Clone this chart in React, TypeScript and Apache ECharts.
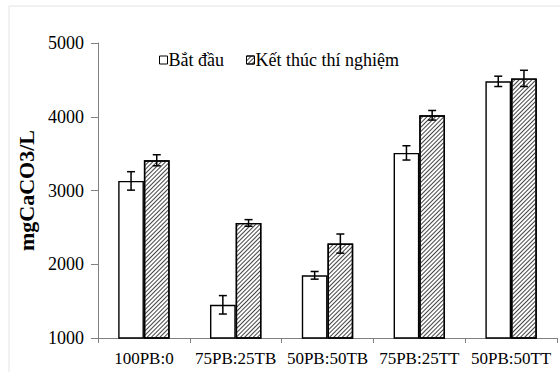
import React, { useEffect, useRef } from "react";
import * as echarts from "echarts";

const categories = ["100PB:0", "75PB:25TB", "50PB:50TB", "75PB:25TT", "50PB:50TT"];
const startValues = [3130, 1450, 1850, 3510, 4480];
const startErrors = [125, 125, 52, 97, 70];
const endValues = [3410, 2560, 2280, 4020, 4520];
const endErrors = [75, 45, 130, 65, 110];
const seriesNames = ["Bắt đầu", "Kết thúc thí nghiệm"];
const yTicks = { min: 1000, max: 5000, interval: 1000 };
const yName = "mgCaCO3/L";

const FONT = "Liberation Serif";
const BAR_FRACTION = 0.28;

function errorSeries(values: number[], errors: number[], side: number) {
  return {
    type: "custom",
    silent: true,
    z: 10,
    data: values.map((v, i) => [i, v, errors[i]]),
    encode: { x: 0, y: 1 },
    renderItem: (params: any, api: any) => {
      const idx = api.value(0);
      const v = api.value(1);
      const e = api.value(2);
      const band = api.size([1, 0])[0];
      const bw = band * BAR_FRACTION;
      const c = api.coord([idx, v]);
      const cx = c[0] + (side * bw) / 2;
      const hi = api.coord([idx, v + e])[1];
      const lo = api.coord([idx, v - e])[1];
      const cap = 4;
      const style = { stroke: "#000", lineWidth: 1.5 };
      return {
        type: "group",
        children: [
          { type: "line", shape: { x1: cx, y1: hi, x2: cx, y2: lo }, style },
          { type: "line", shape: { x1: cx - cap, y1: hi, x2: cx + cap, y2: hi }, style },
          { type: "line", shape: { x1: cx - cap, y1: lo, x2: cx + cap, y2: lo }, style },
        ],
      };
    },
  };
}

export default function App() {
  const ref = useRef<HTMLDivElement>(null);
  useEffect(() => {
    if (!ref.current) return;
    const chart = echarts.init(ref.current, undefined, { renderer: "svg" });
    const hatch = {
      symbol: "rect",
      symbolSize: 1,
      color: "#444",
      backgroundColor: "#fff",
      dashArrayX: [1, 0],
      dashArrayY: [1, 2],
      rotation: -Math.PI / 4,
    };
    chart.setOption({
      animation: false,
      backgroundColor: "#fff",
      textStyle: { fontFamily: FONT },
      graphic: [
        {
          type: "rect",
          shape: { x: 9, y: 6, width: 600, height: 400 },
          style: { fill: "none", stroke: "#e4e4e4", lineWidth: 1 },
          silent: true,
          z: -10,
        },
      ],
      grid: { left: 98, right: 3, top: 43, bottom: 34, containLabel: false },
      legend: {
        data: seriesNames,
        left: 154,
        top: 46,
        icon: "rect",
        itemWidth: 8,
        itemHeight: 8,
        itemGap: 22,
        itemStyle: { borderColor: "#000", borderWidth: 1 },
        textStyle: { fontFamily: FONT, fontSize: 18, color: "#000", padding: [0, 0, 0, -4] },
      },
      xAxis: {
        type: "category",
        data: categories,
        axisLine: { lineStyle: { color: "#808080", width: 1 } },
        axisTick: { show: true, length: 5, lineStyle: { color: "#808080" } },
        axisLabel: { fontFamily: FONT, fontSize: 17, color: "#000", margin: 12, interval: 0 },
      },
      yAxis: {
        type: "value",
        min: yTicks.min,
        max: yTicks.max,
        interval: yTicks.interval,
        name: yName,
        nameLocation: "middle",
        nameGap: 58,
        nameTextStyle: { fontFamily: FONT, fontSize: 22, fontWeight: "bold", color: "#000" },
        splitLine: { show: false },
        axisLine: { show: true, lineStyle: { color: "#808080", width: 1 } },
        axisTick: { show: true, length: 7, lineStyle: { color: "#808080" } },
        axisLabel: {
          fontFamily: FONT,
          fontSize: 18,
          color: "#000",
          margin: 14,
          formatter: (v: number) => String(v),
        },
      },
      series: [
        {
          name: seriesNames[0],
          type: "bar",
          data: startValues,
          barWidth: BAR_FRACTION * 100 + "%",
          barGap: "0%",
          itemStyle: { color: "#fff", borderColor: "#000", borderWidth: 1.4 },
        },
        {
          name: seriesNames[1],
          type: "bar",
          data: endValues,
          barWidth: BAR_FRACTION * 100 + "%",
          barGap: "0%",
          itemStyle: { color: "#fff", borderColor: "#000", borderWidth: 1.4, decal: hatch },
        },
        errorSeries(startValues, startErrors, -1),
        errorSeries(endValues, endErrors, 1),
      ],
    });
    return () => chart.dispose();
  }, []);
  return (
    <div
      ref={ref}
      style={{ position: "fixed", left: 0, top: 0, width: 560, height: 372 }}
    />
  );
}
